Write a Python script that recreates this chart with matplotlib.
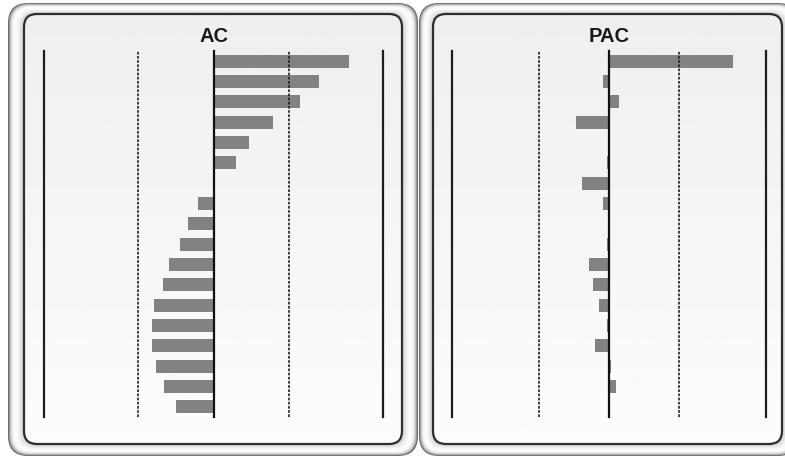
import numpy as np
import matplotlib
matplotlib.use("Agg")
import matplotlib.pyplot as plt
from matplotlib.patches import FancyBboxPatch

# Correlogram values (lags 1..18)
lags = list(range(1, 19))
ac = [0.80, 0.62, 0.51, 0.35, 0.21, 0.13, 0.003, -0.09, -0.15, -0.20,
      -0.26, -0.30, -0.35, -0.36, -0.36, -0.34, -0.29, -0.22]
pac = [0.79, -0.04, 0.065, -0.21, 0.0, -0.013, -0.17, -0.04, 0.0, -0.012,
       -0.127, -0.10, -0.064, -0.01, -0.09, 0.01, 0.045, 0.006]
conf_band = 0.443
titles = ["AC", "PAC"]

W, H = 785, 460
fig = plt.figure(figsize=(W / 100, H / 100), dpi=100)
fig.patch.set_facecolor("white")

# background layer in pixel coordinates
bg = fig.add_axes([0, 0, 1, 1])
bg.set_xlim(0, W)
bg.set_ylim(H, 0)
bg.axis("off")


def lerp(a, b, t):
    return a + (b - a) * t


def bevel_panel(outer, inner, r_out, r_in):
    # tube-like shaded frame between the outer and inner rounded boxes
    profile = [0.42, 0.62, 0.78, 0.88, 0.94, 0.98, 0.99, 0.99, 0.98,
               0.96, 0.94, 0.91, 0.88, 0.85, 0.82]
    n = len(profile)
    for i, g in enumerate(profile):
        t = i / n
        x0 = lerp(outer[0], inner[0], t)
        y0 = lerp(outer[1], inner[1], t)
        x1 = lerp(outer[2], inner[2], t)
        y1 = lerp(outer[3], inner[3], t)
        r = lerp(r_out, r_in, t)
        bg.add_patch(FancyBboxPatch((x0, y0), x1 - x0, y1 - y0,
                                    boxstyle=f"round,pad=0,rounding_size={r}",
                                    facecolor=(g, g, g), edgecolor="none",
                                    zorder=1 + i * 0.01))
    x0, y0, x1, y1 = inner
    box = FancyBboxPatch((x0, y0), x1 - x0, y1 - y0,
                         boxstyle=f"round,pad=0,rounding_size={r_in}",
                         facecolor="none", edgecolor="#2e2e2e",
                         linewidth=1.6, zorder=3)
    bg.add_patch(box)
    grad = np.linspace(0.935, 0.99, 256).reshape(-1, 1)
    im = bg.imshow(np.repeat(grad, 2, axis=1), cmap="gray", vmin=0, vmax=1,
                   extent=(x0, x1, y1, y0), aspect="auto", zorder=2)
    clip = FancyBboxPatch((x0, y0), x1 - x0, y1 - y0,
                          boxstyle=f"round,pad=0,rounding_size={r_in}",
                          transform=bg.transData, facecolor="none",
                          edgecolor="none")
    im.set_clip_path(clip)


bevel_panel((8, 4, 418, 457), (24, 15, 402, 445), 20, 13)
bevel_panel((419, 4, 798, 457), (433, 15, 782, 445), 20, 13)
bg.set_xlim(0, W)
bg.set_ylim(H, 0)

# plotting areas: [left, right] pixel extents of the -1..1 range, y from 52 to 418
panels = [(44, 383, ac), (452, 766, pac)]
top_px, bot_px, title_px = 52, 418, 36
span = bot_px - top_px

for (left, right, vals), title in zip(panels, titles):
    ax = fig.add_axes([left / W, 1 - bot_px / H, (right - left) / W, span / H])
    ax.set_xlim(-1, 1)
    ax.set_ylim(len(lags) + 0.5, 0.5)
    ax.axis("off")
    ax.patch.set_alpha(0)
    ax.barh(lags, vals, height=0.64, color="#828282", zorder=2)
    for xv in (-1, 1):
        ax.axvline(xv, color="#1e1e1e", linewidth=1.6, clip_on=False, zorder=3)
    for xv in (-conf_band, conf_band):
        ax.axvline(xv, color="#1e1e1e", linewidth=1.2,
                   linestyle=(0, (1.6, 0.9)), clip_on=False, zorder=3)
    ax.axvline(0, color="#111111", linewidth=1.6, clip_on=False, zorder=3)
    ax.text(0, 1 + (top_px - title_px) / span, title,
            transform=ax.get_xaxis_transform(),
            ha="center", va="center", fontsize=14.5, fontweight="bold",
            family="Liberation Sans", color="#1a1a1a")

fig.savefig("out.png", dpi=100)
